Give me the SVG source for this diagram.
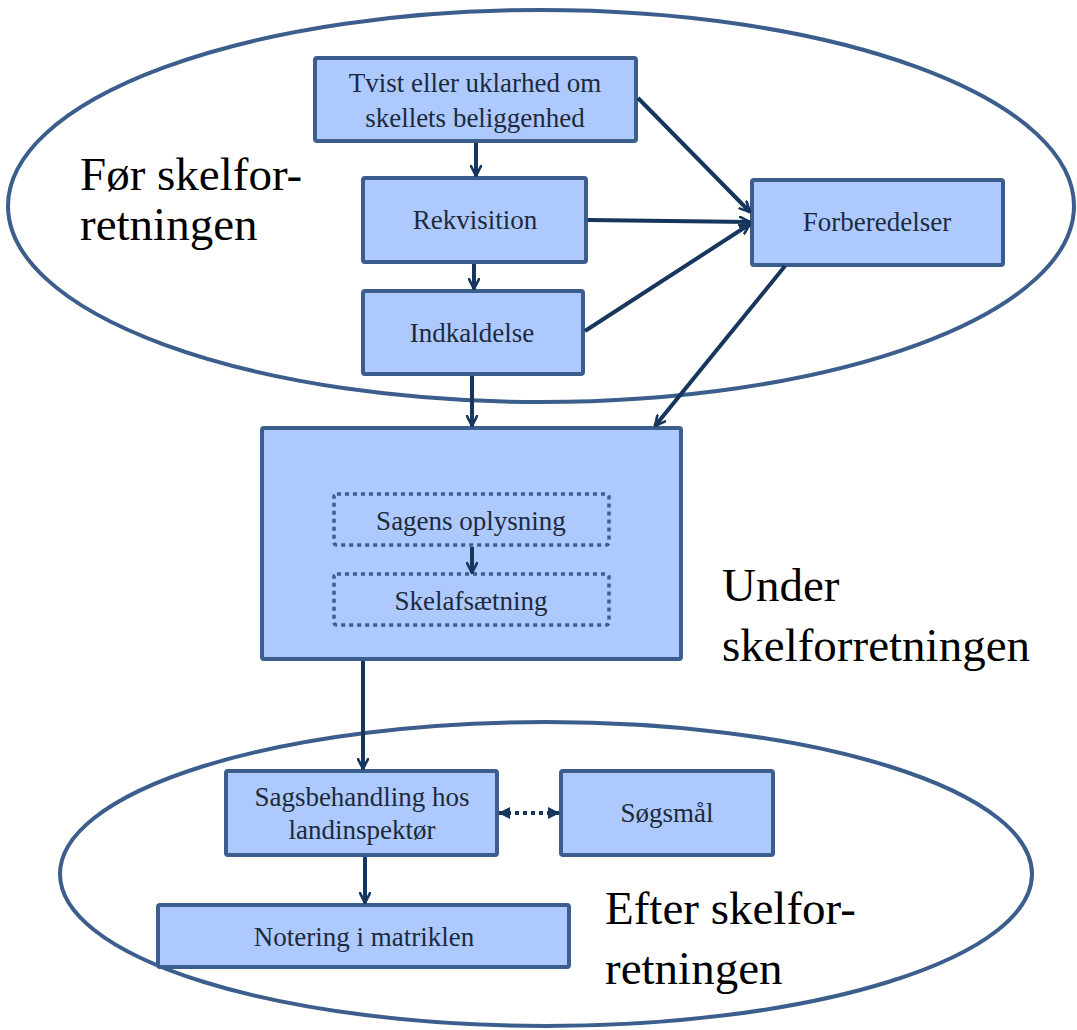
<svg xmlns="http://www.w3.org/2000/svg" width="1077" height="1030" viewBox="0 0 1077 1030">
<defs>
<marker id="open" viewBox="0 0 12 12" refX="11" refY="6" markerWidth="12" markerHeight="12" markerUnits="userSpaceOnUse" orient="auto">
<path d="M1,1 L11,6 L1,11" fill="none" stroke="#17365d" stroke-width="2.6" stroke-linecap="round" stroke-linejoin="round"/>
</marker>
<marker id="tri" viewBox="0 0 12 12" refX="11" refY="6" markerWidth="12" markerHeight="12" markerUnits="userSpaceOnUse" orient="auto-start-reverse">
<path d="M0,0 L12,6 L0,12 Z" fill="#17365d"/>
</marker>
</defs>
<style>
.ell{fill:none;stroke:#3b5e8c;stroke-width:4}
.box{fill:#adc9fe;stroke:#3b5e8c;stroke-width:4}
.dot{fill:none;stroke:#3b5e8c;stroke-width:3.5;stroke-dasharray:4 4}
.t{font-family:'Liberation Serif','Times New Roman','DejaVu Serif',serif;font-size:27px;fill:#1c2a3c;text-anchor:middle}
.big{font-family:'Liberation Serif','Times New Roman','DejaVu Serif',serif;font-size:47px;fill:#000}
.c{fill:none;stroke:#17365d;stroke-width:4;marker-end:url(#open)}
</style>
<rect width="1077" height="1030" fill="#fff"/>
<g id="regions">
<ellipse class="ell" cx="541" cy="206" rx="533" ry="196"/>
<ellipse class="ell" cx="546" cy="874" rx="486" ry="152"/>
</g>
<g id="labels">
<text class="big" x="80" y="190">Før skelfor-</text>
<text class="big" x="80" y="240">retningen</text>
<text class="big" x="722" y="601">Under</text>
<text class="big" x="722" y="661">skelforretningen</text>
<text class="big" x="605" y="924">Efter skelfor-</text>
<text class="big" x="605" y="984">retningen</text>
</g>
<g id="n-tvist"><rect class="box" x="315" y="58" width="321" height="83" rx="2"/>
<text class="t" x="475" y="92">Tvist eller uklarhed om</text><text class="t" x="475" y="127">skellets beliggenhed</text></g>
<g id="n-rekvisition"><rect class="box" x="363" y="178" width="223" height="84" rx="2"/>
<text class="t" x="475" y="229">Rekvisition</text></g>
<g id="n-indkaldelse"><rect class="box" x="363" y="291" width="220" height="83" rx="2"/>
<text class="t" x="472" y="342">Indkaldelse</text></g>
<g id="n-forberedelser"><rect class="box" x="752" y="180" width="251" height="85" rx="2"/>
<text class="t" x="877" y="231">Forberedelser</text></g>
<g id="n-under"><rect class="box" x="262" y="428" width="419" height="231" rx="2"/></g>
<g id="n-sagens"><rect class="dot" x="334" y="494" width="275" height="51" rx="3"/>
<text class="t" x="471" y="530">Sagens oplysning</text></g>
<g id="n-skelafsaetning"><rect class="dot" x="334" y="574" width="275" height="51" rx="3"/>
<text class="t" x="471" y="610">Skelafsætning</text></g>
<g id="n-sagsbehandling"><rect class="box" x="226" y="771" width="271" height="84" rx="2"/>
<text class="t" x="362" y="806">Sagsbehandling hos</text><text class="t" x="362" y="839">landinspektør</text></g>
<g id="n-soegsmaal"><rect class="box" x="561" y="771" width="212" height="84" rx="2"/>
<text class="t" x="667" y="822">Søgsmål</text></g>
<g id="n-notering"><rect class="box" x="158" y="905" width="411" height="62" rx="2"/>
<text class="t" x="364" y="946">Notering i matriklen</text></g>
<g id="connectors">
<line class="c" x1="476" y1="143" x2="476" y2="176"/>
<line class="c" x1="474" y1="264" x2="474" y2="289"/>
<line class="c" x1="472" y1="376" x2="472" y2="426"/>
<line class="c" x1="638" y1="98" x2="750" y2="212"/>
<line class="c" x1="588" y1="220" x2="750" y2="222"/>
<line class="c" x1="585" y1="331" x2="750" y2="224"/>
<line class="c" x1="785" y1="266" x2="655" y2="426"/>
<line class="c" x1="472" y1="547" x2="472" y2="573"/>
<line class="c" x1="363" y1="661" x2="363" y2="769"/>
<line class="c" x1="365" y1="857" x2="365" y2="903"/>
<line x1="499" y1="813" x2="559" y2="813" stroke="#17365d" stroke-width="4" stroke-dasharray="4 4" marker-start="url(#tri)" marker-end="url(#tri)"/>
</g>
</svg>
